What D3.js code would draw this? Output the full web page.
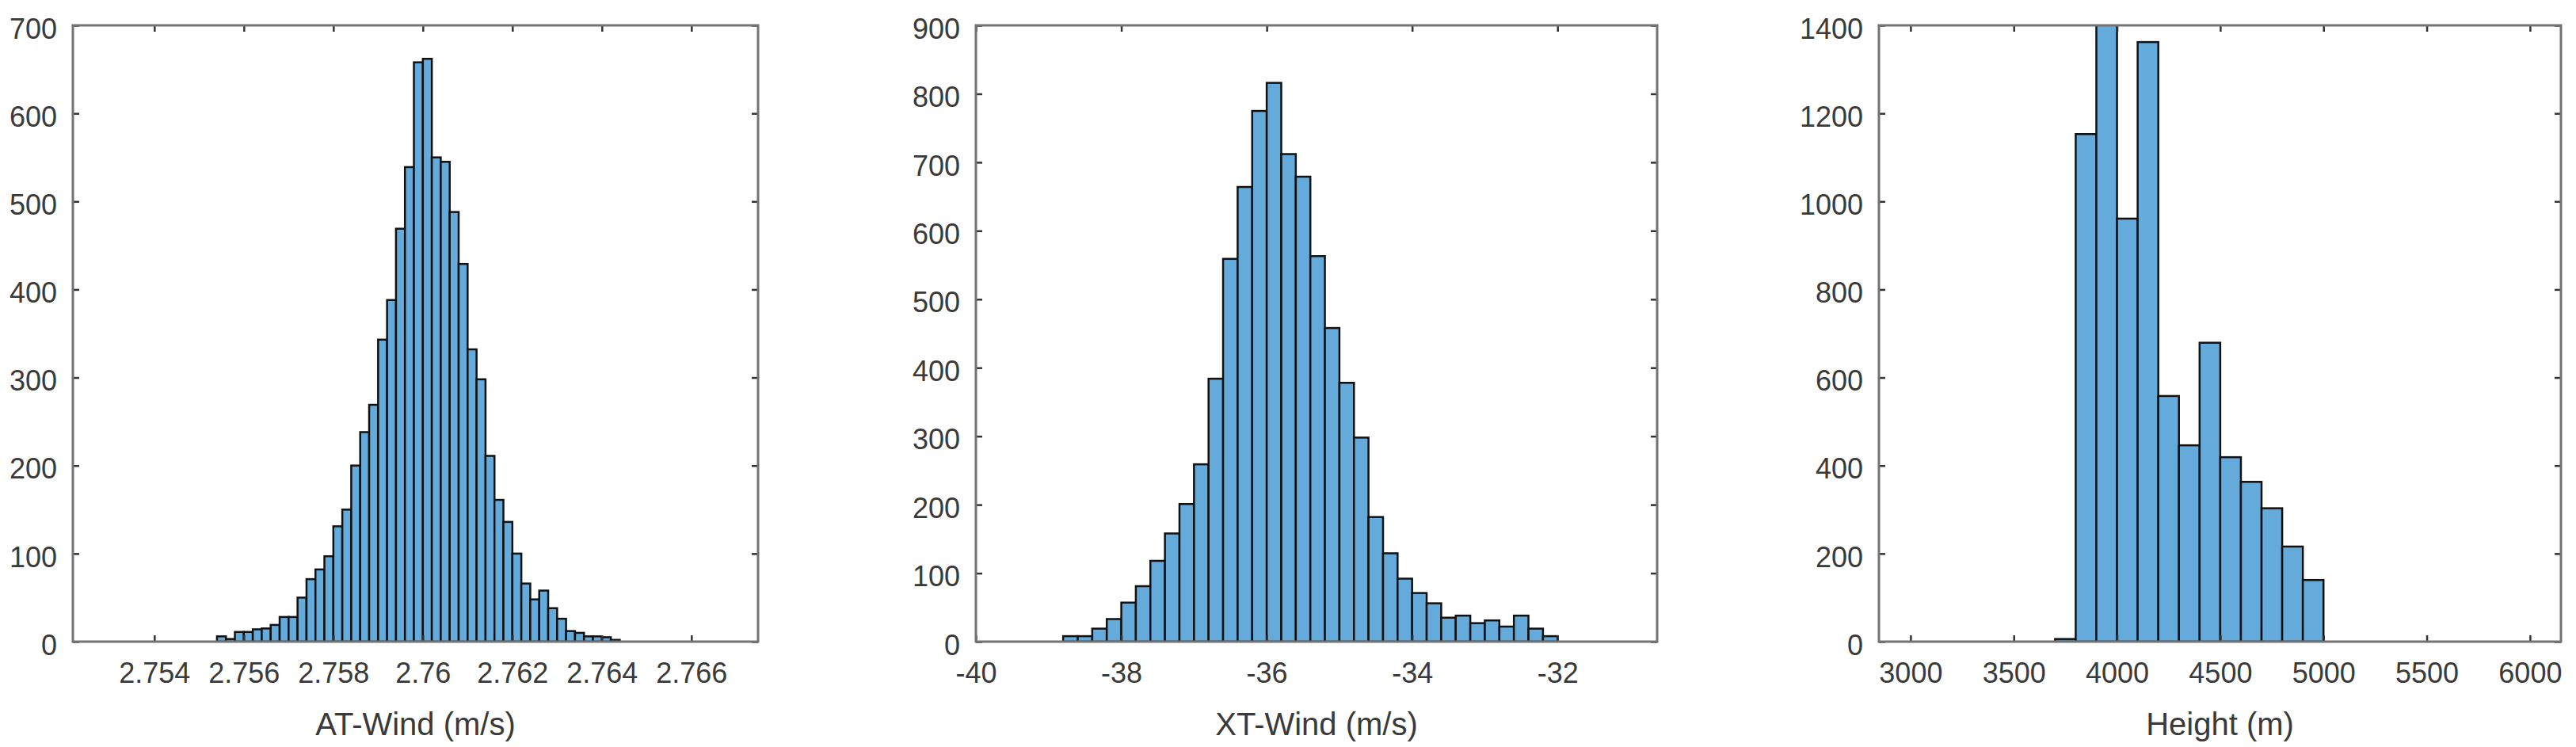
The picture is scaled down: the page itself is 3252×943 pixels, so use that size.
<!DOCTYPE html>
<html>
<head>
<meta charset="utf-8">
<script src="https://cdn.jsdelivr.net/npm/d3@7"></script>
<style>
  body { margin: 0; background: #fff; }
  text { font-family: "Liberation Sans", Arial, sans-serif; fill: #3a3a3a; }
</style>
</head>
<body>
<svg id="chart" width="3252" height="943"></svg>
<script>
(function () {
    var width = 3252, height = 943

    // ---- data ----
    // AT-Wind: bins of 0.0002 starting at 2.7554
    const atStart = 2.7554, atBin = 0.0002;
    const atCounts = [6, 3, 11, 11, 14, 15, 19, 28, 28, 50, 71, 82, 97, 131, 150, 200,
        238, 269, 343, 388, 469, 539, 658, 662, 550, 545, 488, 429, 332, 298, 211, 161,
        136, 100, 66, 48, 58, 38, 26, 12, 10, 6, 6, 5, 2];
    const atXTicks = [2.754, 2.756, 2.758, 2.76, 2.762, 2.764, 2.766];
    const atYTicks = [0, 100, 200, 300, 400, 500, 600, 700];

    // XT-Wind: bins of 0.2 starting at -38.8
    const xtStart = -38.8, xtBin = 0.2;
    const xtCounts = [8, 8, 19, 33, 57, 81, 118, 158, 201, 259, 384, 559, 664, 775, 816,
        712, 679, 563, 458, 378, 298, 182, 129, 92, 71, 56, 35, 38, 27, 31, 22, 38, 19, 8];
    const xtXTicks = [-40, -38, -36, -34, -32];
    const xtYTicks = [0, 100, 200, 300, 400, 500, 600, 700, 800, 900];

    // Height: bins of 100 starting at 3700
    const htStart = 3700, htBin = 100;
    const htCounts = [6, 1153, 1420, 961, 1362, 558, 446, 679, 419, 363, 303, 216, 140];
    const htXTicks = [3000, 3500, 4000, 4500, 5000, 5500, 6000];
    const htYTicks = [0, 200, 400, 600, 800, 1000, 1200, 1400];

    const panels = [
        { label: "AT-Wind (m/s)", start: atStart, bin: atBin, counts: atCounts,
          xDomain: [2.75218, 2.76749], yMax: 700, xTicks: atXTicks, yTicks: atYTicks,
          left: 92, w: 865 },
        { label: "XT-Wind (m/s)", start: xtStart, bin: xtBin, counts: xtCounts,
          xDomain: [-40, -30.63], yMax: 900, xTicks: xtXTicks, yTicks: xtYTicks,
          left: 1232, w: 860 },
        { label: "Height (m)", start: htStart, bin: htBin, counts: htCounts,
          xDomain: [2847, 6150], yMax: 1400, xTicks: htXTicks, yTicks: htYTicks,
          left: 2372, w: 861 }
    ];

    const top = 32, bottom = 810, tickLen = 8;
    const svg = d3.select("#chart");

    panels.forEach((p, i) => {
        const x = d3.scaleLinear().domain(p.xDomain).range([0, p.w]);
        const y = d3.scaleLinear().domain([0, p.yMax]).range([bottom - top, 0]);
        const h = bottom - top;

        const g = svg.append("g").attr("transform", `translate(${p.left},${top})`);

        g.append("clipPath").attr("id", "clip" + i)
            .append("rect").attr("width", p.w).attr("height", h);

        //bars
        const bins = p.counts.map((c, k) => ({ x0: p.start + k * p.bin, x1: p.start + (k + 1) * p.bin, c: c }));
        g.append("g").attr("clip-path", `url(#clip${i})`)
            .selectAll("rect")
            .data(bins)
            .join("rect")
            .attr("x", d => x(d.x0))
            .attr("width", d => x(d.x1) - x(d.x0))
            .attr("y", d => y(d.c))
            .attr("height", d => y(0) - y(d.c))
            .attr("fill", "#64aadb")
            .attr("stroke", "#111")
            .attr("stroke-width", 2.5);

        //axes with inward ticks (box on, like matlab)
        const xAxis = d3.axisBottom(x).tickValues(p.xTicks).tickSize(tickLen).tickFormat(d => String(d));
        const yAxis = d3.axisLeft(y).tickValues(p.yTicks).tickSize(tickLen).tickFormat(d => String(d));

        const gx = g.append("g").attr("transform", `translate(0,${h})`).call(xAxis);
        gx.selectAll(".tick line").attr("y2", -tickLen);
        gx.selectAll(".tick text").attr("y", 26).attr("dy", "0.71em");

        const gy = g.append("g").call(yAxis);
        gy.selectAll(".tick line").attr("x2", tickLen);
        gy.selectAll(".tick text").attr("x", -20).attr("dy", "0.45em");

        const gxTop = g.append("g").call(d3.axisTop(x).tickValues(p.xTicks).tickSize(-tickLen).tickFormat(""));
        const gyRight = g.append("g").attr("transform", `translate(${p.w},0)`)
            .call(d3.axisRight(y).tickValues(p.yTicks).tickSize(-tickLen).tickFormat(""));

        [gx, gy, gxTop, gyRight].forEach(a => {
            a.select(".domain").remove();
            a.selectAll(".tick line").attr("stroke", "#333").attr("stroke-width", 2.5);
            a.selectAll(".tick text").attr("font-size", 36).attr("fill", "#3a3a3a");
        });

        //box
        g.append("rect")
            .attr("width", p.w).attr("height", h)
            .attr("fill", "none")
            .attr("stroke", "#737373")
            .attr("stroke-width", 3);

        g.append("text")
            .attr("x", p.w / 2)
            .attr("y", 928 - top)
            .attr("text-anchor", "middle")
            .attr("font-size", 40)
            .text(p.label);
    });
})();
</script>
</body>
</html>
